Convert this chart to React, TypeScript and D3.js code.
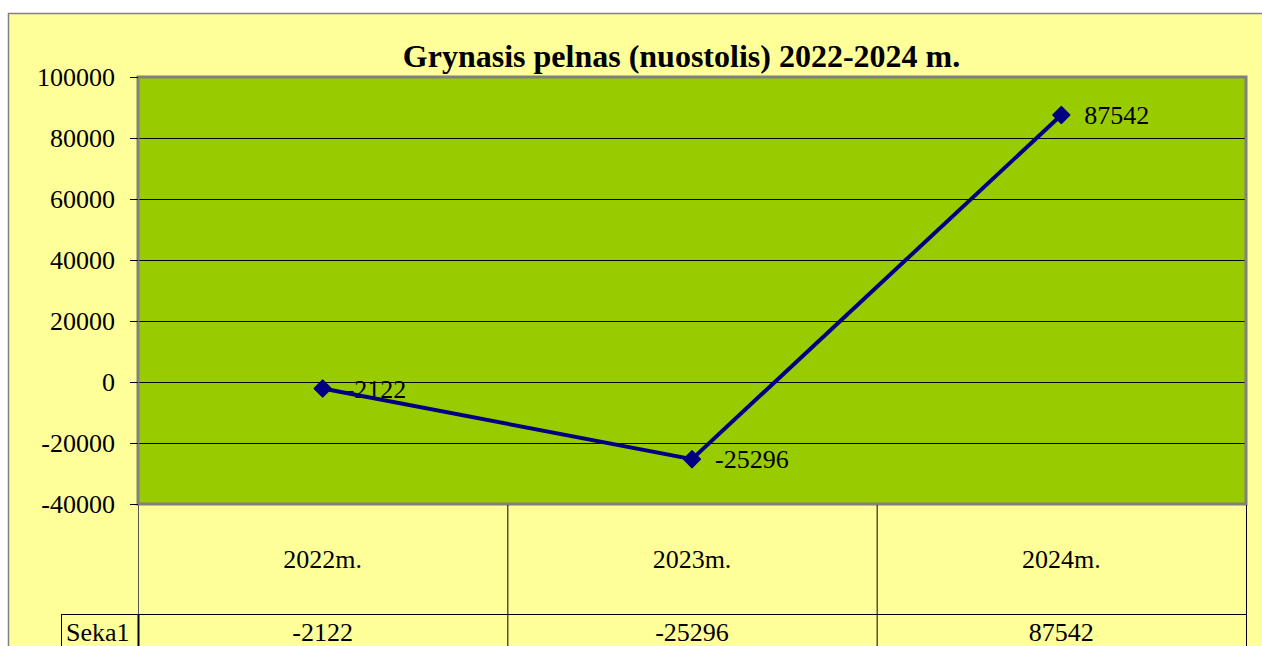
import { useRef, useEffect } from "react";
import * as d3 from "d3";

const categories = ["2022m.", "2023m.", "2024m."];
const values = [-2122, -25296, 87542];
const seriesName = "Seka1";
const yTicks = [-40000, -20000, 0, 20000, 40000, 60000, 80000, 100000];
const title = "Grynasis pelnas (nuostolis) 2022-2024 m.";

export default function App() {
  const ref = useRef<SVGSVGElement>(null);

  function init() {
    const settings = {
      width: 1262,
      height: 646,
      plot: { left: 138, right: 1246, top: 77, bottom: 504 },
      font: "Liberation Serif",
    };
    const p = settings.plot;

    const svg = d3.select(ref.current);
    svg.selectAll("*").remove();

    const x = d3.scaleBand().domain(categories).range([p.left, p.right]);
    const y = d3.scaleLinear().domain([-40000, 100000]).range([p.bottom, p.top]);

    // chart background + outer border
    svg
      .append("rect")
      .attr("x", 8.5)
      .attr("y", 13.5)
      .attr("width", settings.width)
      .attr("height", settings.height)
      .attr("fill", "#ffff99")
      .attr("stroke", "#808080")
      .attr("stroke-width", 1.5);

    // plot area
    svg
      .append("rect")
      .attr("x", p.left)
      .attr("y", p.top)
      .attr("width", p.right - p.left)
      .attr("height", p.bottom - p.top)
      .attr("fill", "#99cc00");

    // gridlines
    svg
      .append("g")
      .selectAll("line")
      .data(yTicks.slice(1, -1))
      .join("line")
      .attr("x1", p.left)
      .attr("x2", p.right)
      .attr("y1", (d) => Math.round(y(d)) + 0.5)
      .attr("y2", (d) => Math.round(y(d)) + 0.5)
      .attr("stroke", "#000")
      .attr("stroke-width", 1);

    svg
      .append("rect")
      .attr("x", p.left)
      .attr("y", p.top)
      .attr("width", p.right - p.left)
      .attr("height", p.bottom - p.top)
      .attr("fill", "none")
      .attr("stroke", "#808080")
      .attr("stroke-width", 3);

    // y axis
    const yAxis = svg.append("g").style("font-family", settings.font).style("font-size", "26px");
    yAxis
      .selectAll("line")
      .data(yTicks)
      .join("line")
      .attr("x1", 130)
      .attr("x2", p.left)
      .attr("y1", (d) => Math.round(y(d)) + 0.5)
      .attr("y2", (d) => Math.round(y(d)) + 0.5)
      .attr("stroke", "#000");
    yAxis
      .selectAll("text")
      .data(yTicks)
      .join("text")
      .attr("x", 115)
      .attr("y", (d) => y(d))
      .attr("dy", "0.33em")
      .attr("text-anchor", "end")
      .attr("fill", "#000")
      .text((d) => String(d));

    // data table below
    const table = svg.append("g").style("font-family", settings.font).style("font-size", "26px");
    const rowTop = 614;
    const bounds = [p.left, ...categories.map((c) => (x(c) as number) + x.bandwidth())];
    table
      .selectAll("line.col")
      .data(bounds)
      .join("line")
      .attr("class", "col")
      .attr("x1", (d) => d + 0.5)
      .attr("x2", (d) => d + 0.5)
      .attr("y1", p.bottom + 1)
      .attr("y2", settings.height)
      .attr("stroke", (d, i) => (i === 0 ? "#555" : "#000"));
    table
      .append("line")
      .attr("x1", 61)
      .attr("x2", p.right)
      .attr("y1", rowTop + 0.5)
      .attr("y2", rowTop + 0.5)
      .attr("stroke", "#000");
    table
      .append("line")
      .attr("x1", 61.5)
      .attr("x2", 61.5)
      .attr("y1", rowTop)
      .attr("y2", settings.height)
      .attr("stroke", "#000");
    table
      .append("line")
      .attr("x1", p.left + 0.5)
      .attr("x2", p.left + 0.5)
      .attr("y1", rowTop)
      .attr("y2", settings.height)
      .attr("stroke", "#000")
      .attr("stroke-width", 2);
    table
      .selectAll("text.cat")
      .data(categories)
      .join("text")
      .attr("class", "cat")
      .attr("x", (d) => (x(d) as number) + x.bandwidth() / 2)
      .attr("y", 568)
      .attr("text-anchor", "middle")
      .text((d) => d);
    table
      .selectAll("text.val")
      .data(values)
      .join("text")
      .attr("class", "val")
      .attr("x", (d, i) => (x(categories[i]) as number) + x.bandwidth() / 2)
      .attr("y", 641)
      .attr("text-anchor", "middle")
      .text((d) => String(d));
    table.append("text").attr("x", 66).attr("y", 641).text(seriesName);

    // data labels
    const cx = (i: number) => (x(categories[i]) as number) + x.bandwidth() / 2;
    svg
      .append("g")
      .style("font-family", settings.font)
      .style("font-size", "26px")
      .selectAll("text")
      .data(values)
      .join("text")
      .attr("x", (d, i) => cx(i) + 23)
      .attr("y", (d) => y(d))
      .attr("dy", "0.35em")
      .text((d) => String(d));

    // line + markers
    const line = d3
      .line<number>()
      .x((d, i) => cx(i))
      .y((d) => y(d));
    svg
      .append("path")
      .datum(values)
      .attr("d", line)
      .attr("fill", "none")
      .attr("stroke", "#000080")
      .attr("stroke-width", 4);
    svg
      .append("g")
      .selectAll("path")
      .data(values)
      .join("path")
      .attr("transform", (d, i) => `translate(${cx(i)},${y(d)}) rotate(45)`)
      .attr("d", d3.symbol(d3.symbolSquare, 130)())
      .attr("fill", "#000080")
      .attr("stroke", "#000080")
      .attr("stroke-linejoin", "round")
      .attr("stroke-width", 2);

    // title
    svg
      .append("text")
      .attr("x", 681.5)
      .attr("y", 67)
      .attr("text-anchor", "middle")
      .style("font-family", settings.font)
      .style("font-size", "32px")
      .style("font-weight", "bold")
      .text(title);
  }

  useEffect(init, []);
  return (
    <svg
      ref={ref}
      width={1262}
      height={646}
      style={{ position: "absolute", left: 0, top: 0, background: "#fff" }}
    ></svg>
  );
}
